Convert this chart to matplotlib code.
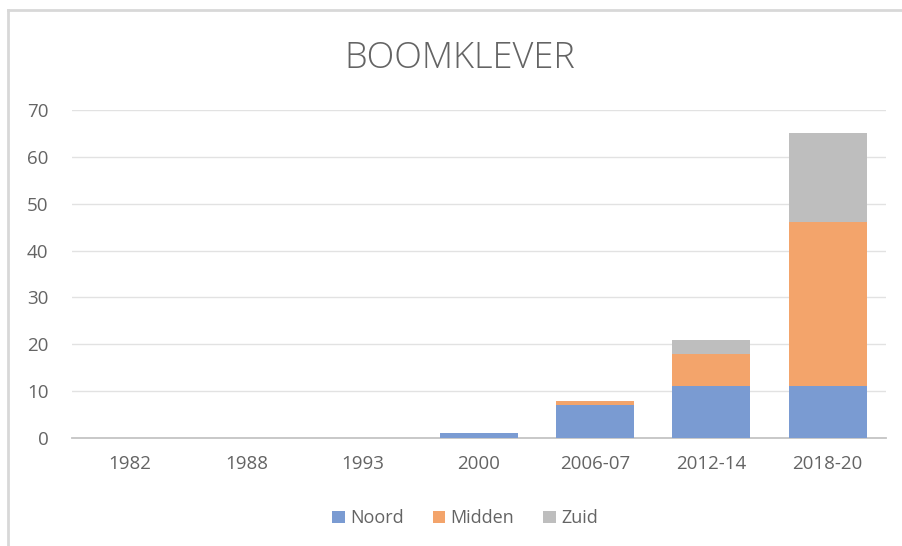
import matplotlib
matplotlib.use("Agg")
import matplotlib.pyplot as plt
from matplotlib.lines import Line2D
import numpy as np

categories = ["1982", "1988", "1993", "2000", "2006-07", "2012-14", "2018-20"]
noord = [0, 0, 0, 1, 7, 11, 11]
midden = [0, 0, 0, 0, 1, 7, 35]
zuid = [0, 0, 0, 0, 0, 3, 19]
yticks = [0, 10, 20, 30, 40, 50, 60, 70]

plt.rcParams['font.family'] = ['Open Sans', 'DejaVu Sans']
text_color = "#646464"

fig = plt.figure(figsize=(9.03, 5.46), dpi=100)
ax = fig.add_axes([0.0797, 0.1978, 0.9013, 0.6007])

x = np.arange(len(categories))
w = 0.67
c_noord = "#7A9BD2"
c_midden = "#F3A46B"
c_zuid = "#BEBEBE"
b1 = ax.bar(x, noord, w, color=c_noord, label="Noord", zorder=3)
b2 = ax.bar(x, midden, w, bottom=noord, color=c_midden, label="Midden", zorder=3)
bot2 = np.array(noord) + np.array(midden)
b3 = ax.bar(x, zuid, w, bottom=bot2, color=c_zuid, label="Zuid", zorder=3)

ax.set_xlim(-0.5, len(categories) - 0.5)
ax.set_ylim(0, 70)
ax.set_yticks(yticks)
ax.set_xticks(x)
ax.set_xticklabels(categories)
ax.grid(axis="y", color="#E2E2E2", linewidth=1.0, zorder=0)
ax.set_axisbelow(True)
for s in ["top", "right", "left"]:
    ax.spines[s].set_visible(False)
ax.spines["bottom"].set_color("#C4C4C4")
ax.spines["bottom"].set_linewidth(1.3)
ax.tick_params(axis="both", length=0, labelsize=13.5, colors=text_color)
ax.tick_params(axis="y", pad=17)
ax.tick_params(axis="x", pad=12)

fig.text(0.509, 0.893, "BOOMKLEVER", ha="center", va="center", fontsize=26,
         color=text_color, fontweight="light")

leg = fig.legend(handles=[b1, b2, b3], labels=["Noord", "Midden", "Zuid"],
                 loc="center", bbox_to_anchor=(0.515, 0.051), ncol=3, frameon=False,
                 fontsize=13, handlelength=0.7, handleheight=0.7, handletextpad=0.3,
                 columnspacing=1.6, labelcolor=text_color)

# outer frame lines (left and top)
fig.add_artist(Line2D([0.0085, 0.0085], [0, 0.982], transform=fig.transFigure,
                      color="#D8D8D8", linewidth=2))
fig.add_artist(Line2D([0.0085, 1.0], [0.982, 0.982], transform=fig.transFigure,
                      color="#D8D8D8", linewidth=2))

fig.savefig("out.png", dpi=100)
